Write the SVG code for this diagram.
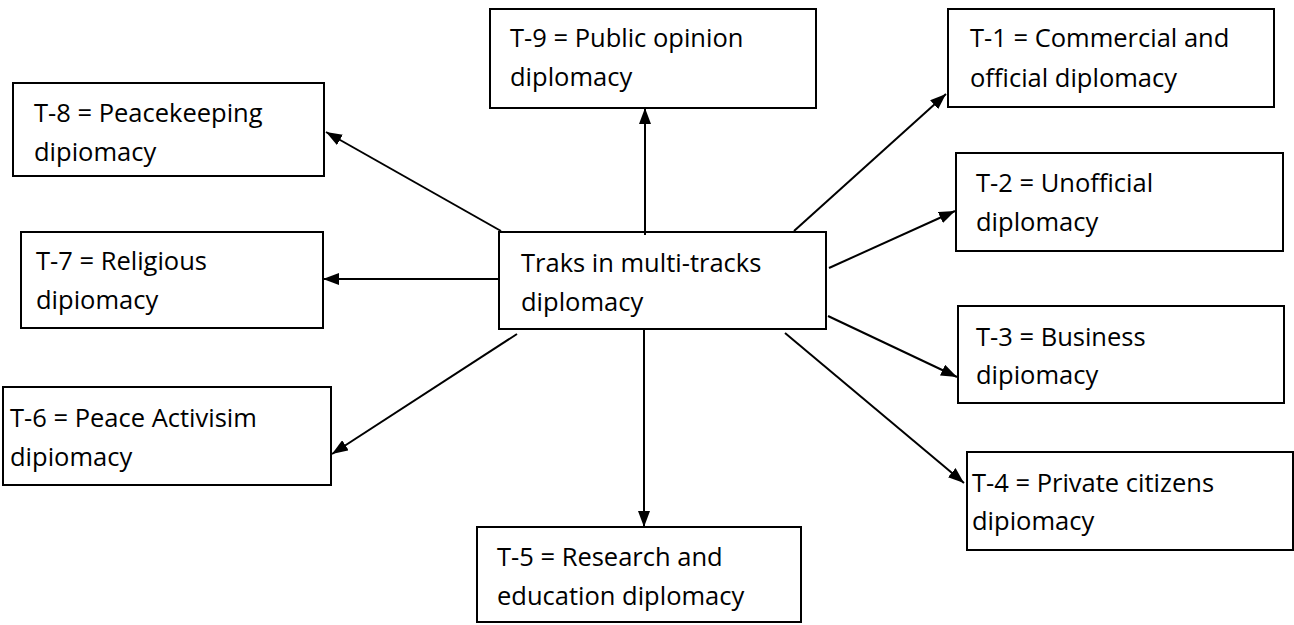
<svg xmlns="http://www.w3.org/2000/svg" width="1294" height="625" viewBox="0 0 1294 625">
<style>
  .box { fill: none; stroke: #000; stroke-width: 2; }
  .lbl { font-family: "Open Sans", "Liberation Sans", sans-serif; font-size: 25.5px; fill: #000; }
  .conn { stroke: #000; stroke-width: 2; fill: none; marker-end: url(#ah); }
</style>
<defs>
  <marker id="ah" viewBox="0 0 16 12" refX="16" refY="6" markerWidth="16" markerHeight="12" markerUnits="userSpaceOnUse" orient="auto">
    <path d="M0,0 L16,6 L0,12 Z" fill="#000"/>
  </marker>
</defs>
<rect width="1294" height="625" fill="#fff"/>

<g id="connectors">
  <line class="conn" x1="645" y1="235" x2="645" y2="108"/>
  <line class="conn" x1="644" y1="330" x2="644" y2="527"/>
  <line class="conn" x1="500" y1="279" x2="323" y2="279"/>
  <line class="conn" x1="501" y1="231" x2="326" y2="132"/>
  <line class="conn" x1="517" y1="334" x2="332" y2="454"/>
  <line class="conn" x1="794" y1="231" x2="946" y2="94"/>
  <line class="conn" x1="829" y1="268" x2="955" y2="211"/>
  <line class="conn" x1="828" y1="316" x2="957" y2="377"/>
  <line class="conn" x1="785" y1="333" x2="964" y2="483"/>
</g>

<g id="center">
  <rect class="box" x="499" y="232" width="327" height="97"/>
  <text class="lbl" x="521" y="272">Traks in multi-tracks</text>
  <text class="lbl" x="521" y="311">diplomacy</text>
</g>
<g id="t9">
  <rect class="box" x="490" y="9" width="326" height="99"/>
  <text class="lbl" x="510" y="47">T-9 = Public opinion</text>
  <text class="lbl" x="510" y="86">diplomacy</text>
</g>
<g id="t1">
  <rect class="box" x="948" y="9" width="326" height="98"/>
  <text class="lbl" x="970" y="47">T-1 = Commercial and</text>
  <text class="lbl" x="970" y="87">official diplomacy</text>
</g>
<g id="t2">
  <rect class="box" x="956" y="153" width="327" height="98"/>
  <text class="lbl" x="976" y="192">T-2 = Unofficial</text>
  <text class="lbl" x="976" y="231">diplomacy</text>
</g>
<g id="t3">
  <rect class="box" x="958" y="306" width="326" height="97"/>
  <text class="lbl" x="976" y="346">T-3 = Business</text>
  <text class="lbl" x="976" y="384">dipiomacy</text>
</g>
<g id="t4">
  <rect class="box" x="967" y="452" width="326" height="98"/>
  <text class="lbl" x="972" y="492">T-4 = Private citizens</text>
  <text class="lbl" x="972" y="530">dipiomacy</text>
</g>
<g id="t5">
  <rect class="box" x="477" y="527" width="324" height="95"/>
  <text class="lbl" x="497" y="566">T-5 = Research and</text>
  <text class="lbl" x="497" y="605">education diplomacy</text>
</g>
<g id="t6">
  <rect class="box" x="3" y="387" width="328" height="98"/>
  <text class="lbl" x="10" y="427">T-6 = Peace Activisim</text>
  <text class="lbl" x="10" y="466">dipiomacy</text>
</g>
<g id="t7">
  <rect class="box" x="21" y="232" width="302" height="96"/>
  <text class="lbl" x="36" y="270">T-7 = Religious</text>
  <text class="lbl" x="36" y="309">dipiomacy</text>
</g>
<g id="t8">
  <rect class="box" x="13" y="83" width="311" height="93"/>
  <text class="lbl" x="34" y="122">T-8 = Peacekeeping</text>
  <text class="lbl" x="34" y="161">dipiomacy</text>
</g>
</svg>
